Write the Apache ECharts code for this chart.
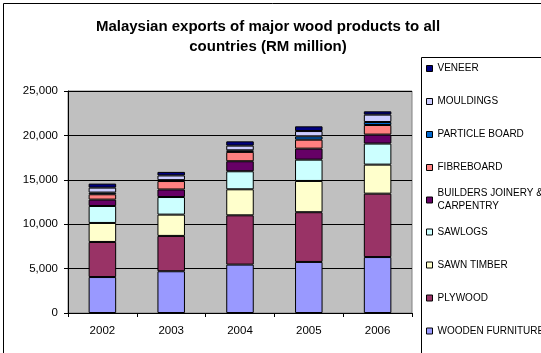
<!DOCTYPE html>
<html>
<head>
<meta charset="utf-8">
<script src="https://cdn.jsdelivr.net/npm/echarts@6/dist/echarts.min.js"></script>
<style>
html,body{margin:0;padding:0;background:#fff;}
#chart{width:541px;height:353px;}
</style>
</head>
<body>
<div id="chart"></div>
<script>
var years = ['2002', '2003', '2004', '2005', '2006'];
var woodenFurniture = [4050, 4700, 5450, 5750, 6300];
var plywood = [3950, 3980, 5550, 5600, 7140];
var sawnTimber = [2140, 2400, 2930, 3520, 3270];
var sawlogs = [1910, 1980, 2030, 2400, 2370];
var buildersJoinery = [720, 850, 1130, 1240, 1010];
var fibreboard = [600, 950, 1050, 1010, 1080];
var particleBoard = [190, 100, 180, 370, 340];
var mouldings = [560, 530, 530, 600, 830];
var veneer = [450, 400, 480, 530, 370];
var yTicks = [0, 5000, 10000, 15000, 20000, 25000];

var seriesDefs = [
  {name: 'WOODEN FURNITURE', data: woodenFurniture, color: '#9999FF'},
  {name: 'PLYWOOD', data: plywood, color: '#993366'},
  {name: 'SAWN TIMBER', data: sawnTimber, color: '#FFFFCC'},
  {name: 'SAWLOGS', data: sawlogs, color: '#CCFFFF'},
  {name: 'BUILDERS JOINERY & CARPENTRY', data: buildersJoinery, color: '#660066'},
  {name: 'FIBREBOARD', data: fibreboard, color: '#FF8080'},
  {name: 'PARTICLE BOARD', data: particleBoard, color: '#0066CC'},
  {name: 'MOULDINGS', data: mouldings, color: '#CCCCFF'},
  {name: 'VENEER', data: veneer, color: '#000080'}
];

var font = '"Liberation Sans", Arial, sans-serif';
var chart = echarts.init(document.getElementById('chart'), null, {renderer: 'canvas'});

var series = seriesDefs.map(function (s) {
  return {
    name: s.name,
    type: 'bar',
    stack: 'total',
    data: s.data,
    barCategoryGap: '60%',
    itemStyle: {color: s.color, borderColor: '#000', borderWidth: 1},
    emphasis: {disabled: true}
  };
});

// legend item centres (top to bottom), one legend per entry
var legendCenters = [68.5, 101.5, 134.5, 167.5, 200, 232, 265, 298, 331];
var legendOrder = seriesDefs.slice().reverse();
var legends = legendOrder.map(function (s, i) {
  var isBuilders = s.name.indexOf('BUILDERS') === 0;
  var lh = 13;
  var top = isBuilders ? legendCenters[i] - (lh * 3) / 2 : legendCenters[i] - lh / 2;
  return {
    data: [{name: s.name, icon: 'rect'}],
    orient: 'vertical',
    left: 426,
    top: top,
    padding: 0,
    itemWidth: 6,
    itemHeight: 6,
    itemGap: 0,
    selectedMode: false,
    itemStyle: {borderColor: '#000', borderWidth: 1},
    formatter: function (n) {
      return n.indexOf('BUILDERS') === 0 ? 'BUILDERS JOINERY &\nCARPENTRY' : n;
    },
    textStyle: {
      fontFamily: font,
      fontSize: 10,
      color: '#000',
      lineHeight: lh,
      padding: isBuilders ? [lh, 0, 0, 0] : 0
    }
  };
});

chart.setOption({
  animation: false,
  backgroundColor: '#fff',
  title: {
    text: 'Malaysian exports of major wood products to all\ncountries (RM million)',
    left: 268,
    textAlign: 'center',
    top: 17,
    padding: 0,
    textStyle: {fontFamily: font, fontSize: 15, fontWeight: 'bold', color: '#000', lineHeight: 20}
  },
  legend: legends,
  grid: {
    left: 68, right: 129, top: 91, bottom: 40,
    show: true, backgroundColor: '#C0C0C0', borderColor: '#808080', borderWidth: 1
  },
  xAxis: {
    type: 'category',
    data: years,
    axisLine: {lineStyle: {color: '#000', width: 1}},
    axisTick: {show: true, length: 4, lineStyle: {color: '#000'}},
    axisLabel: {fontFamily: font, fontSize: 11.5, color: '#000', margin: 12}
  },
  yAxis: {
    type: 'value',
    min: yTicks[0],
    max: yTicks[yTicks.length - 1],
    interval: yTicks[1] - yTicks[0],
    axisLine: {show: true, lineStyle: {color: '#000', width: 1}},
    axisTick: {show: true, length: 4, lineStyle: {color: '#000'}},
    splitLine: {show: true, lineStyle: {color: '#000', width: 1}},
    axisLabel: {
      fontFamily: font, fontSize: 11.5, color: '#000', margin: 10,
      formatter: function (v) { return v.toLocaleString('en-US'); }
    }
  },
  graphic: [
    {type: 'rect', shape: {x: 3.5, y: 3.5, width: 545, height: 360},
     style: {fill: 'none', stroke: '#000', lineWidth: 1}, silent: true, z: -1},
    {type: 'rect', shape: {x: 421.5, y: 57.5, width: 130, height: 310},
     style: {fill: '#fff', stroke: '#000', lineWidth: 1}, silent: true, z: -1}
  ],
  series: series
});
</script>
</body>
</html>
